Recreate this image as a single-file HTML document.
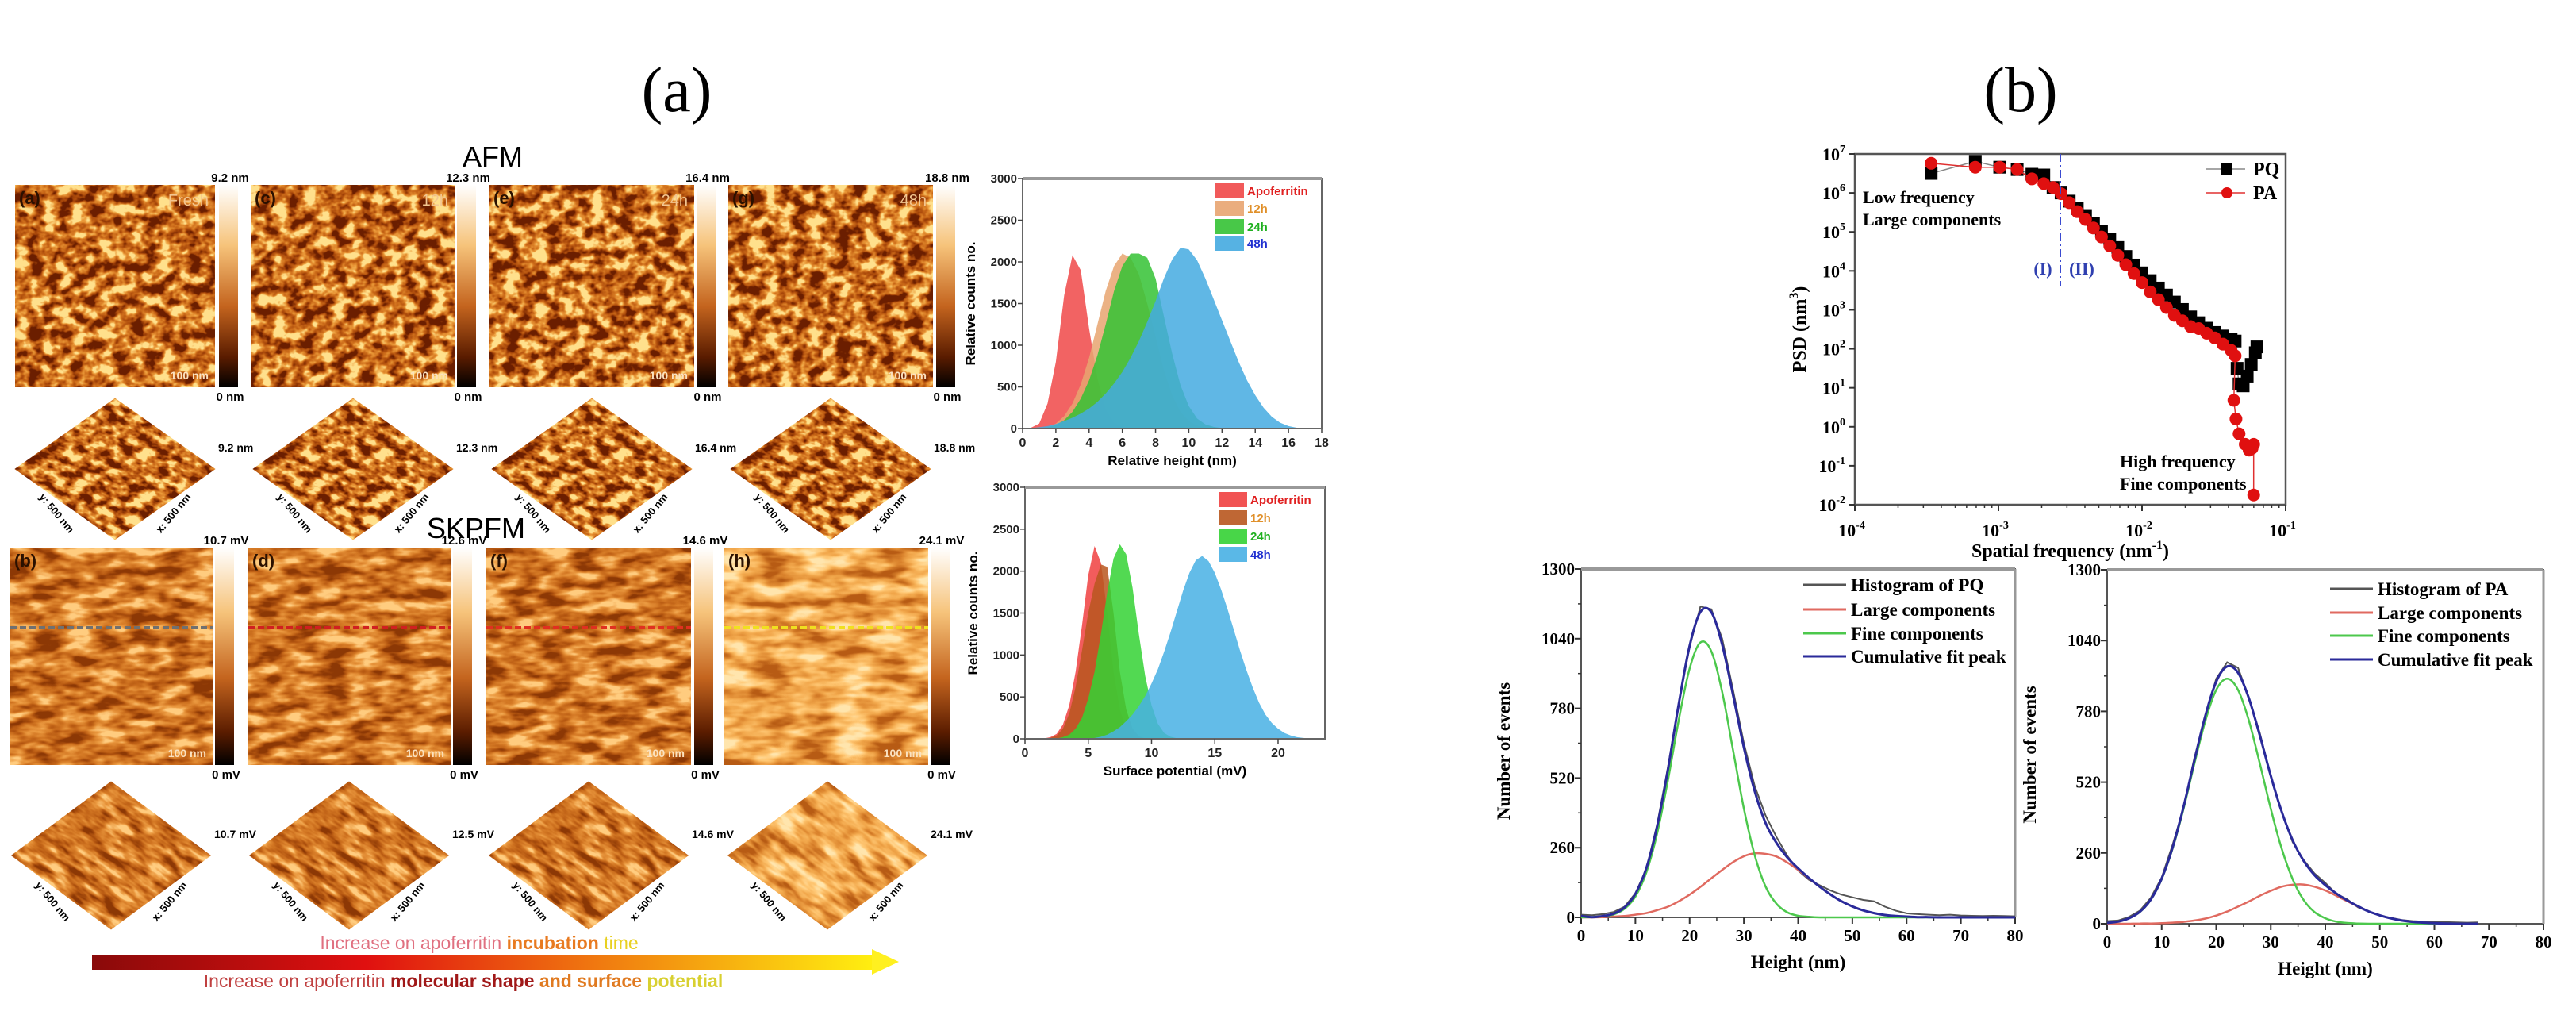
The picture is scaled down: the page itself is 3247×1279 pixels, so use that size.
<!DOCTYPE html>
<html><head><meta charset="utf-8"><style>
html,body{margin:0;padding:0;background:#fff;}
svg{display:block;}
.sb{font-family:"Liberation Sans",sans-serif;font-weight:bold;}
.sf{font-family:"Liberation Serif",serif;font-weight:bold;}
</style></head><body>
<svg id="fig" width="3247" height="1279" viewBox="0 0 3247 1279" xmlns="http://www.w3.org/2000/svg">
<defs>
<filter id="afmTex" filterUnits="objectBoundingBox" x="0" y="0" width="1" height="1" color-interpolation-filters="sRGB">
<feTurbulence type="fractalNoise" baseFrequency="0.055 0.07" numOctaves="3" seed="4"/>
<feColorMatrix type="matrix" values="1 0 0 0 0 1 0 0 0 0 1 0 0 0 0 0 0 0 0 1"/>
<feComponentTransfer><feFuncR type="linear" slope="3" intercept="-1"/><feFuncG type="linear" slope="3" intercept="-1"/><feFuncB type="linear" slope="3" intercept="-1"/></feComponentTransfer>
<feComponentTransfer><feFuncR type="table" tableValues="0.42 0.66 0.8 0.92 1"/><feFuncG type="table" tableValues="0.12 0.28 0.42 0.6 0.88"/><feFuncB type="table" tableValues="0.0 0.04 0.1 0.22 0.55"/></feComponentTransfer>
</filter>
<filter id="kpTex" filterUnits="objectBoundingBox" x="0" y="0" width="1" height="1" color-interpolation-filters="sRGB">
<feTurbulence type="fractalNoise" baseFrequency="0.025 0.07" numOctaves="3" seed="9"/>
<feColorMatrix type="matrix" values="1 0 0 0 0 1 0 0 0 0 1 0 0 0 0 0 0 0 0 1"/>
<feComponentTransfer><feFuncR type="linear" slope="2.4" intercept="-0.7"/><feFuncG type="linear" slope="2.4" intercept="-0.7"/><feFuncB type="linear" slope="2.4" intercept="-0.7"/></feComponentTransfer>
<feComponentTransfer><feFuncR type="table" tableValues="0.55 0.72 0.83 0.92 1"/><feFuncG type="table" tableValues="0.22 0.35 0.47 0.6 0.8"/><feFuncB type="table" tableValues="0.02 0.07 0.14 0.25 0.5"/></feComponentTransfer>
</filter>
<filter id="kpLight" filterUnits="objectBoundingBox" x="0" y="0" width="1" height="1" color-interpolation-filters="sRGB">
<feTurbulence type="fractalNoise" baseFrequency="0.02 0.06" numOctaves="3" seed="13"/>
<feColorMatrix type="matrix" values="1 0 0 0 0 1 0 0 0 0 1 0 0 0 0 0 0 0 0 1"/>
<feComponentTransfer><feFuncR type="linear" slope="2.2" intercept="-0.6"/><feFuncG type="linear" slope="2.2" intercept="-0.6"/><feFuncB type="linear" slope="2.2" intercept="-0.6"/></feComponentTransfer>
<feComponentTransfer><feFuncR type="table" tableValues="0.72 0.86 0.95 1 1"/><feFuncG type="table" tableValues="0.36 0.52 0.66 0.78 0.9"/><feFuncB type="table" tableValues="0.08 0.18 0.3 0.45 0.68"/></feComponentTransfer>
</filter>
<linearGradient id="cbar" x1="0" y1="0" x2="0" y2="1">
<stop offset="0" stop-color="#ffffff"/><stop offset="0.3" stop-color="#f6c37a"/><stop offset="0.6" stop-color="#c4641e"/><stop offset="0.85" stop-color="#5a1c00"/><stop offset="1" stop-color="#000"/>
</linearGradient>
<linearGradient id="arrowGrad" x1="0" y1="0" x2="1" y2="0">
<stop offset="0" stop-color="#8a0a0a"/><stop offset="0.35" stop-color="#e01010"/><stop offset="0.65" stop-color="#f07a10"/><stop offset="1" stop-color="#ffef10"/>
</linearGradient>
</defs>

<text x="853" y="140" font-size="80" font-family="Liberation Serif, serif" text-anchor="middle">(a)</text>
<text x="2547" y="140" font-size="80" font-family="Liberation Serif, serif" text-anchor="middle">(b)</text>

<text x="621" y="210" font-size="36" class="sb" text-anchor="middle" style="font-weight:normal">AFM</text>
<text x="600" y="678" font-size="36" class="sb" text-anchor="middle" style="font-weight:normal">SKPFM</text>

<g id="afmImgs"></g>
<g id="kpImgs"></g>

<g>
<text x="604" y="1196" font-size="23" text-anchor="middle" class="sb" style="font-weight:normal"><tspan fill="#e07080">Increase on apoferritin </tspan><tspan fill="#e87a20" font-weight="bold">incubation</tspan><tspan fill="#e8d020"> time</tspan></text>
<rect x="116" y="1203" width="985" height="19" fill="url(#arrowGrad)"/>
<polygon points="1099,1196 1133,1212 1099,1228" fill="#fff020"/>
<text x="584" y="1244" font-size="23" text-anchor="middle" class="sb" style="font-weight:normal"><tspan fill="#c04040">Increase on apoferritin </tspan><tspan fill="#a01818" font-weight="bold">molecular shape</tspan><tspan fill="#e07a20" font-weight="bold"> and surface </tspan><tspan fill="#d8d030" font-weight="bold">potential</tspan></text>
</g>

<g id="histA1"></g>
<g id="histA2"></g>
<g id="psd"></g>
<g id="hpq"></g>
<g id="hpa"></g>
</svg>

<script>
// ---------- data: panel (a) height histograms (x = 0..18 step 0.5 nm) ----------
const heightApo = [0,10,60,300,800,1600,2080,1900,1200,600,230,70,20,5,0,0,0,0,0,0,0,0,0,0,0,0,0,0,0,0,0,0,0,0,0,0,0];
const height12h = [0,0,5,20,60,150,300,530,850,1250,1650,1950,2100,2050,1850,1500,1100,700,400,200,90,35,10,3,0,0,0,0,0,0,0,0,0,0,0,0,0];
const height24h = [0,0,5,15,40,100,200,360,580,880,1250,1650,1950,2100,2100,2050,1800,1350,900,520,270,120,50,20,5,0,0,0,0,0,0,0,0,0,0,0,0];
const height48h = [0,5,15,30,55,90,130,180,240,320,420,540,680,850,1050,1280,1530,1800,2030,2170,2150,2020,1800,1550,1300,1050,800,580,400,250,140,70,30,10,3,0,0];
const heightXTicks = [0,2,4,6,8,10,12,14,16,18];
// ---------- data: panel (a) potential histograms (x = 0..23.5 step 0.5 mV) ----------
const potApo = [0,0,0,5,20,60,170,400,800,1350,1950,2300,2100,1500,800,350,120,40,10,0,0,0,0,0,0,0,0,0,0,0,0,0,0,0,0,0,0,0,0,0,0,0,0,0,0,0,0,0];
const pot12h = [0,0,0,0,10,40,120,300,620,1050,1500,1850,2080,2050,1500,800,350,120,30,5,0,0,0,0,0,0,0,0,0,0,0,0,0,0,0,0,0,0,0,0,0,0,0,0,0,0,0,0];
const pot24h = [0,0,0,0,0,5,20,50,120,250,480,800,1250,1750,2150,2320,2200,1800,1250,750,400,180,70,25,8,0,0,0,0,0,0,0,0,0,0,0,0,0,0,0,0,0,0,0,0,0,0,0];
const pot48h = [0,0,0,0,0,0,0,0,0,0,0,10,25,50,90,140,210,290,390,510,660,830,1040,1270,1520,1770,1980,2130,2180,2120,1980,1780,1550,1300,1050,820,610,430,290,190,120,70,40,20,10,5,0,0];
const potXTicks = [0,5,10,15,20];
const countTicks = [0,500,1000,1500,2000,2500,3000];
const seriesLabels = ["Apoferritin","12h","24h","48h"];

// ---------- data: PSD ----------
const pqFreq = [3.4e-4,6.9e-4,1.02e-3,1.35e-3,1.71e-3,2.07e-3,2.4e-3,2.73e-3,3.11e-3,3.54e-3,4.04e-3,4.59e-3,5.22e-3,5.96e-3,6.78e-3,7.71e-3,8.79e-3,1.0e-2,1.14e-2,1.30e-2,1.48e-2,1.68e-2,1.91e-2,2.18e-2,2.48e-2,2.82e-2,3.21e-2,3.66e-2,4.17e-2,4.45e-2,4.59e-2,4.74e-2,5.06e-2,5.40e-2,5.76e-2,6.15e-2,6.31e-2];
const pqLogPsd = [6.5,6.81,6.66,6.6,6.48,6.46,6.14,6.0,5.79,5.6,5.42,5.22,5.02,4.82,4.6,4.37,4.15,3.95,3.75,3.56,3.38,3.2,3.01,2.82,2.67,2.53,2.42,2.33,2.25,2.2,1.5,1.1,1.05,1.3,1.6,1.9,2.05];
const paFreq = [3.4e-4,6.9e-4,1.02e-3,1.35e-3,1.71e-3,2.07e-3,2.4e-3,2.73e-3,3.11e-3,3.54e-3,4.04e-3,4.59e-3,5.22e-3,5.96e-3,6.78e-3,7.71e-3,8.79e-3,1.0e-2,1.14e-2,1.30e-2,1.48e-2,1.68e-2,1.91e-2,2.18e-2,2.48e-2,2.82e-2,3.21e-2,3.66e-2,4.17e-2,4.45e-2,4.36e-2,4.51e-2,4.74e-2,5.23e-2,5.57e-2,5.84e-2,5.99e-2,5.99e-2];
const paLogPsd = [6.76,6.66,6.66,6.6,6.36,6.24,6.14,5.98,5.75,5.52,5.32,5.1,4.87,4.64,4.4,4.16,3.93,3.7,3.46,3.26,3.06,2.86,2.72,2.57,2.52,2.4,2.28,2.12,1.96,1.82,0.68,0.2,-0.18,-0.45,-0.6,-0.55,-0.45,-1.75];
const psdXExp = [-4,-3,-2,-1];
const psdYExp = [-2,-1,0,1,2,3,4,5,6,7];

// ---------- data: height distributions (x = 0..80 step 2 nm) ----------
const pqHist = [10,8,12,20,40,90,180,345,560,800,1010,1160,1150,1040,850,650,490,380,300,230,175,140,120,100,85,75,65,60,40,25,15,12,10,8,10,7,6,5,6,5,4];
const pqLarge = [0,0,1,3,5,10,16,27,40,60,85,114,146,177,206,228,239,237,227,205,177,145,114,85,60,41,26,16,9,5,3,1,1,0,0,0,0,0,0,0,0];
const pqFine = [0,1,4,11,32,78,167,312,512,737,929,1026,993,841,625,406,232,115,51,19,6,2,0,0,0,0,0,0,0,0,0,0,0,0,0,0,0,0,0,0,0];
const pqCum = [5,1,5,14,37,88,183,339,552,797,1014,1140,1139,1018,831,634,471,352,278,224,183,147,114,85,60,41,26,16,9,5,3,1,1,0,0,0,0,0,0,0,0];
const paHist = [10,12,25,48,95,170,290,425,610,760,900,960,940,830,700,540,410,300,235,185,150,110,90,60,45,30,22,14,10,8,6,6,5,4,5];
const paLarge = [0,0,0,1,1,2,4,7,12,19,30,45,63,82,103,121,136,143,144,136,122,103,83,63,45,31,20,12,7,4,2,1,0,0,0];
const paFine = [3,8,20,43,88,164,276,422,588,745,859,900,859,745,588,422,276,164,88,43,20,8,3,1,0,0,0,0,0,0,0,0,0,0,0];
const paCum = [3,8,20,44,89,166,280,429,600,764,889,945,922,827,691,543,412,307,232,179,142,111,86,64,45,31,20,12,7,4,2,1,0,0,0];
const heightTicks = [0,10,20,30,40,50,60,70,80];
const eventTicks = [0,260,520,780,1040,1300];
const legendB1 = ["Histogram of PQ","Large components","Fine components","Cumulative fit peak"];
const legendB2 = ["Histogram of PA","Large components","Fine components","Cumulative fit peak"];

const NS = "http://www.w3.org/2000/svg";
function mk(tag, attrs, parent){ const e=document.createElementNS(NS,tag); for(const k in attrs) e.setAttribute(k,attrs[k]); parent.appendChild(e); return e; }
function lin(d0,d1,r0,r1){ return v => r0 + (v-d0)/(d1-d0)*(r1-r0); }
function smoothPath(pts){
  let d = "M"+pts[0][0].toFixed(1)+","+pts[0][1].toFixed(1);
  for(let i=0;i<pts.length-1;i++){
    const p0=pts[Math.max(0,i-1)], p1=pts[i], p2=pts[i+1], p3=pts[Math.min(pts.length-1,i+2)];
    const c1=[p1[0]+(p2[0]-p0[0])/6, p1[1]+(p2[1]-p0[1])/6];
    const c2=[p2[0]-(p3[0]-p1[0])/6, p2[1]-(p3[1]-p1[1])/6];
    d += "C"+c1[0].toFixed(1)+","+c1[1].toFixed(1)+" "+c2[0].toFixed(1)+","+c2[1].toFixed(1)+" "+p2[0].toFixed(1)+","+p2[1].toFixed(1);
  }
  return d;
}

// ---------- AFM / SKPFM image panels ----------
const afmG = document.getElementById('afmImgs');
const kpG = document.getElementById('kpImgs');
const afmBoxes = [[19,233,252,255],[316,233,257,255],[617,233,258,255],[918,233,258,255]];
const afmCb = [276,576,878,1180];
const afmTop = ["9.2 nm","12.3 nm","16.4 nm","18.8 nm"];
const afmLetters = ["(a)","(c)","(e)","(g)"];
const afmTimes = ["Fresh","12h","24h","48h"];
const kpBoxes = [[13,690,255,274],[313,690,255,274],[613,690,258,274],[913,690,257,274]];
const kpCb = [271,571,875,1173];
const kpTop = ["10.7 mV","12.6 mV","14.6 mV","24.1 mV"];
const kpLetters = ["(b)","(d)","(f)","(h)"];
const dashCol = ["#707070","#d02020","#e03020","#f0e020"];
const afm3dX = [145,445,746,1047];
const kp3dX = [140,440,742,1043];
const kp3dLbl = ["10.7 mV","12.5 mV","14.6 mV","24.1 mV"];
const afm3dLbl = ["9.2 nm","12.3 nm","16.4 nm","18.8 nm"];

function panel(parent, box, cbx, topLbl, botLbl, letter, filt, idx, kind){
  let e = mk('rect',{x:box[0],y:box[1],width:box[2],height:box[3],fill:'#c87832',filter:'url(#'+filt+')'},parent);
  
  
  let cb = mk('rect',{x:cbx,y:box[1],width:24,height:box[3],fill:'url(#cbar)'},parent);
  
  
  let t1 = mk('text',{x:cbx+14,y:box[1]-4,'font-size':15,'text-anchor':'middle',class:'sb'},parent); t1.textContent=topLbl;
  
  
  let t2 = mk('text',{x:cbx+14,y:box[1]+box[3]+17,'font-size':15,'text-anchor':'middle',class:'sb'},parent); t2.textContent=botLbl;
  
  
  let t3 = mk('text',{x:box[0]+5,y:box[1]+24,'font-size':22,class:'sb',fill:'#2a1000'},parent); t3.textContent=letter;
  
  
  let t4 = mk('text',{x:box[0]+box[2]-8,y:box[1]+box[3]-10,'font-size':14,'text-anchor':'end',class:'sb',fill:'#fbe2c0'},parent); t4.textContent="100 nm";
  
  
}
function diamond(parent, cx, cy, w, h, filt, lbl, idx, kind){
  const s = w/Math.SQRT2;
  const g = mk('g',{transform:'translate('+cx+','+cy+') scale(1,'+(h/w).toFixed(3)+') rotate(45)'},parent);
  
  
  mk('rect',{x:-s/2,y:-s/2,width:s,height:s,fill:'#c87832',filter:'url(#'+filt+')'},g);
  let t = mk('text',{x:cx+w/2+4,y:cy-22,'font-size':14,class:'sb'},parent); t.textContent=lbl;
  
  
  let ty = mk('text',{x:cx-w/4-14,y:cy+h/4+14,'font-size':13,class:'sb','text-anchor':'middle',transform:'rotate(50 '+(cx-w/4-14)+' '+(cy+h/4+14)+')'},parent); ty.textContent="y: 500 nm";
  
  
  let tx = mk('text',{x:cx+w/4+14,y:cy+h/4+14,'font-size':13,class:'sb','text-anchor':'middle',transform:'rotate(-50 '+(cx+w/4+14)+' '+(cy+h/4+14)+')'},parent); tx.textContent="x: 500 nm";
  
  
}
for(let i=0;i<4;i++){
  panel(afmG, afmBoxes[i], afmCb[i], afmTop[i], "0 nm", afmLetters[i], 'afmTex', i, 'afm');
  let tt = mk('text',{x:afmBoxes[i][0]+afmBoxes[i][2]-8,y:afmBoxes[i][1]+26,'font-size':20,'text-anchor':'end',class:'sb',fill:'#f3c690',style:'font-weight:normal'},afmG); tt.textContent=afmTimes[i];
  
  
  diamond(afmG, afm3dX[i], 591, 252, 178, 'afmTex', afm3dLbl[i], i, 'afm');
  const kfilt = i===3 ? 'kpLight' : 'kpTex';
  panel(kpG, kpBoxes[i], kpCb[i], kpTop[i], "0 mV", kpLetters[i], kfilt, i, 'skpfm');
  let dl = mk('line',{x1:kpBoxes[i][0],x2:kpBoxes[i][0]+kpBoxes[i][2],y1:791,y2:791,stroke:dashCol[i],'stroke-width':4,'stroke-dasharray':'8 4'},kpG);
  
  
  diamond(kpG, kp3dX[i], 1078, 252, 187, kfilt, kp3dLbl[i], i, 'skpfm');
}

// ---------- panel (a) histograms ----------
const colsA1 = ["#f04848","#e8a470","#34c234","#44aae0"];
const colsA2 = ["#f04040","#b8561e","#34d234","#48b0e4"];
const legTxtCol = ["#e02020","#e0902a","#20b020","#2030d0"];
function areaHist(gid, box, xmax, step, series, cols, xTicks, xTitle, legRows){
  const g = document.getElementById(gid);
  const X = lin(0,xmax,box[0],box[1]), Y = lin(0,3000,box[3],box[2]);
  series.forEach((arr,si)=>{
    const pts = arr.map((v,i)=>[X(i*step),Y(v)]);
    let d = "M"+X(0)+","+Y(0)+" L"+pts.map(p=>p[0].toFixed(1)+","+p[1].toFixed(1)).join(" L")+" L"+X((arr.length-1)*step)+","+Y(0)+"Z";
    const p = mk('path',{d:d,fill:cols[si],'fill-opacity':0.85},g);
    
    
  });
  const fr = mk('rect',{x:box[0],y:box[2],width:box[1]-box[0],height:box[3]-box[2],fill:'none',stroke:'#666','stroke-width':2},g);
  
  
  mk('line',{x1:box[0],x2:box[1],y1:box[2],y2:box[2],stroke:'#999','stroke-width':4},g);
  xTicks.forEach(t=>{
    mk('line',{x1:X(t),x2:X(t),y1:box[3],y2:box[3]+6,stroke:'#444','stroke-width':1.5},g);
    const tl = mk('text',{x:X(t),y:box[3]+23,'font-size':16,'text-anchor':'middle',class:'sb',fill:'#222'},g); tl.textContent=t;
    
    
  });
  countTicks.forEach(t=>{
    mk('line',{x1:box[0]-6,x2:box[0],y1:Y(t),y2:Y(t),stroke:'#444','stroke-width':1.5},g);
    const tl = mk('text',{x:box[0]-7,y:Y(t)+5,'font-size':15,'text-anchor':'end',class:'sb',fill:'#222'},g); tl.textContent=t;
    
    
  });
  const xt = mk('text',{x:(box[0]+box[1])/2,y:box[3]+46,'font-size':17,'text-anchor':'middle',class:'sb'},g); xt.textContent=xTitle;
  
  
  const yc = (box[2]+box[3])/2;
  const yt = mk('text',{x:box[0]-60,y:yc,'font-size':17,'text-anchor':'middle',class:'sb',transform:'rotate(-90 '+(box[0]-60)+' '+yc+')'},g); yt.textContent="Relative counts no.";
  
  
  legRows.forEach((ly,i)=>{
    const sw = mk('rect',{x:box[1]-134,y:ly-9,width:36,height:19,fill:cols[i],'fill-opacity':0.9},g);
    
    
    const lt = mk('text',{x:box[1]-94,y:ly+6,'font-size':15,class:'sb',fill:legTxtCol[i]},g); lt.textContent=seriesLabels[i];
    
    
  });
}
areaHist('histA1',[1289,1666,225,540],18,0.5,[heightApo,height12h,height24h,height48h],colsA1,heightXTicks,"Relative height (nm)",[240,262,285,306]);
areaHist('histA2',[1292,1670,614,931],23.7,0.5,[potApo,pot12h,pot24h,pot48h],colsA2,potXTicks,"Surface potential (mV)",[629,652,675,698]);

// ---------- PSD ----------
(function(){
  const g = document.getElementById('psd');
  const b = {l:2338,r:2881,t:194,b:636};
  const X = f => lin(-4,-1,b.l,b.r)(Math.log10(f));
  const Xe = lin(-4,-1,b.l,b.r);
  const Y = lin(-2,7,b.b,b.t);
  const fr = mk('rect',{x:b.l,y:b.t,width:b.r-b.l,height:b.b-b.t,fill:'none',stroke:'#555','stroke-width':2.5},g);
  
  
  psdXExp.forEach(e=>{
    mk('line',{x1:Xe(e),x2:Xe(e),y1:b.b,y2:b.b+8,stroke:'#333','stroke-width':2},g);
    for(let m=2;m<10&&e<-1;m++){ const xx=Xe(e+Math.log10(m)); mk('line',{x1:xx,x2:xx,y1:b.b,y2:b.b+4,stroke:'#333','stroke-width':1.5},g); }
    const t = mk('text',{x:Xe(e)-4,y:b.b+40,'font-size':22,'text-anchor':'middle',class:'sf'},g);
    t.innerHTML = '10<tspan dy="-10" font-size="14">'+e+'</tspan>';
    
    
  });
  psdYExp.forEach(e=>{
    mk('line',{x1:b.l-8,x2:b.l,y1:Y(e),y2:Y(e),stroke:'#333','stroke-width':2},g);
    const t = mk('text',{x:b.l-12,y:Y(e)+8,'font-size':22,'text-anchor':'end',class:'sf'},g);
    t.innerHTML = '10<tspan dy="-10" font-size="14">'+e+'</tspan>';
    
    
  });
  const xt = mk('text',{x:(b.l+b.r)/2,y:b.b+66,'font-size':24,'text-anchor':'middle',class:'sf'},g);
  xt.innerHTML='Spatial frequency (nm<tspan dy="-10" font-size="16">-1</tspan><tspan dy="10">)</tspan>';
  
  
  const yc=(b.t+b.b)/2;
  const yt = mk('text',{x:2276,y:yc,'font-size':24,'text-anchor':'middle',class:'sf',transform:'rotate(-90 2276 '+yc+')'},g);
  yt.innerHTML='PSD (nm<tspan dy="-10" font-size="16">3</tspan><tspan dy="10">)</tspan>';
  
  
  let pl = mk('polyline',{points:pqFreq.map((f,i)=>X(f).toFixed(1)+","+Y(pqLogPsd[i]).toFixed(1)).join(" "),fill:'none',stroke:'#888','stroke-width':1.5},g);
  
  
  pqFreq.forEach((f,i)=>{
    const r = mk('rect',{x:X(f)-8,y:Y(pqLogPsd[i])-8,width:16,height:16,fill:'#000'},g);
    
    
  });
  let pl2 = mk('polyline',{points:paFreq.map((f,i)=>X(f).toFixed(1)+","+Y(paLogPsd[i]).toFixed(1)).join(" "),fill:'none',stroke:'#e03030','stroke-width':1.5},g);
  
  
  paFreq.forEach((f,i)=>{
    const c = mk('circle',{cx:X(f),cy:Y(paLogPsd[i]),r:8,fill:'#e01010'},g);
    
    
  });
  const dl = mk('line',{x1:2597,x2:2597,y1:b.t,y2:361,stroke:'#3a4ad0','stroke-width':2,'stroke-dasharray':'10 4 2 4'},g);
  
  
  const r1 = mk('text',{x:2575,y:346,'font-size':22,'text-anchor':'middle',class:'sf',fill:'#3040b0'},g); r1.textContent='(I)';
  
  
  const r2 = mk('text',{x:2624,y:346,'font-size':22,'text-anchor':'middle',class:'sf',fill:'#3040b0'},g); r2.textContent='(II)';
  
  
  const a1 = mk('text',{x:2348,y:256,'font-size':22,class:'sf'},g); a1.textContent='Low frequency';
  
  
  const a2 = mk('text',{x:2348,y:284,'font-size':22,class:'sf'},g); a2.textContent='Large components';
  
  
  const a3 = mk('text',{x:2672,y:589,'font-size':22,class:'sf'},g); a3.textContent='High frequency';
  
  
  const a4 = mk('text',{x:2672,y:617,'font-size':22,class:'sf'},g); a4.textContent='Fine components';
  
  
  mk('line',{x1:2781,x2:2830,y1:213,y2:213,stroke:'#888','stroke-width':1.5},g);
  mk('rect',{x:2800,y:206,width:14,height:14,fill:'#000'},g);
  const l1 = mk('text',{x:2840,y:221,'font-size':24,class:'sf'},g); l1.textContent='PQ';
  
  
  mk('line',{x1:2781,x2:2830,y1:243,y2:243,stroke:'#e03030','stroke-width':1.5},g);
  mk('circle',{cx:2807,cy:243,r:7,fill:'#e01010'},g);
  const l2 = mk('text',{x:2840,y:251,'font-size':24,class:'sf'},g); l2.textContent='PA';
  
  
})();

// ---------- panel (b) height histograms ----------
const fitCols = ["#555555","#e06a60","#4cc84c","#2a2a9a"];
const fitNames = ["histogram","large-components","fine-components","cumulative-fit"];
function fitChart(gid, b, series, legend, legX, legY){
  const g = document.getElementById(gid);
  const X = lin(0,80,b.l,b.r), Y = lin(0,1300,b.b,b.t);
  const fr = mk('rect',{x:b.l,y:b.t,width:b.r-b.l,height:b.b-b.t,fill:'none',stroke:'#555','stroke-width':2},g);
  
  
  mk('line',{x1:b.l,x2:b.r,y1:b.t,y2:b.t,stroke:'#999','stroke-width':4},g);
  mk('line',{x1:b.r,x2:b.r,y1:b.t,y2:b.b,stroke:'#999','stroke-width':3},g);
  heightTicks.forEach(t=>{
    mk('line',{x1:X(t),x2:X(t),y1:b.b,y2:b.b+8,stroke:'#333','stroke-width':2},g);
    if(t<80) mk('line',{x1:X(t+5),x2:X(t+5),y1:b.b,y2:b.b+4,stroke:'#333','stroke-width':1.5},g);
    const tl = mk('text',{x:X(t),y:b.b+30,'font-size':21,'text-anchor':'middle',class:'sf'},g); tl.textContent=t;
    
    
  });
  eventTicks.forEach(t=>{
    mk('line',{x1:b.l-8,x2:b.l,y1:Y(t),y2:Y(t),stroke:'#333','stroke-width':2},g);
    if(t<1300) mk('line',{x1:b.l-4,x2:b.l,y1:Y(t+130),y2:Y(t+130),stroke:'#333','stroke-width':1.5},g);
    const tl = mk('text',{x:b.l-8,y:Y(t)+7,'font-size':21,'text-anchor':'end',class:'sf'},g); tl.textContent=t;
    
    
  });
  const xt = mk('text',{x:(b.l+b.r)/2,y:b.b+64,'font-size':23,'text-anchor':'middle',class:'sf'},g); xt.textContent='Height (nm)';
  
  
  const yc=(b.t+b.b)/2+10, yx=b.l-90;
  const yt = mk('text',{x:yx,y:yc,'font-size':23,'text-anchor':'middle',class:'sf',transform:'rotate(-90 '+yx+' '+yc+')'},g); yt.textContent='Number of events';
  
  
  series.forEach((arr,si)=>{
    const pts = arr.map((v,i)=>[X(i*2),Y(v)]);
    let p;
    if(si===0) p = mk('polyline',{points:pts.map(q=>q[0].toFixed(1)+","+q[1].toFixed(1)).join(" "),fill:'none',stroke:fitCols[0],'stroke-width':2},g);
    else p = mk('path',{d:smoothPath(pts),fill:'none',stroke:fitCols[si],'stroke-width':si===3?3:2.5},g);
    
    
  });
  legend.forEach((txt,i)=>{
    mk('line',{x1:legX,x2:legX+54,y1:legY[i],y2:legY[i],stroke:fitCols[i],'stroke-width':3},g);
    const lt = mk('text',{x:legX+60,y:legY[i]+8,'font-size':23,class:'sf'},g); lt.textContent=txt;
    
    
  });
}
fitChart('hpq',{l:1993,r:2540,t:717,b:1156},[pqHist,pqLarge,pqFine,pqCum],legendB1,2273,[737,768,798,827]);
fitChart('hpa',{l:2656,r:3206,t:718,b:1164},[paHist,paLarge,paFine,paCum],legendB2,2937,[742,772,801,831]);
</script>
</body></html>
